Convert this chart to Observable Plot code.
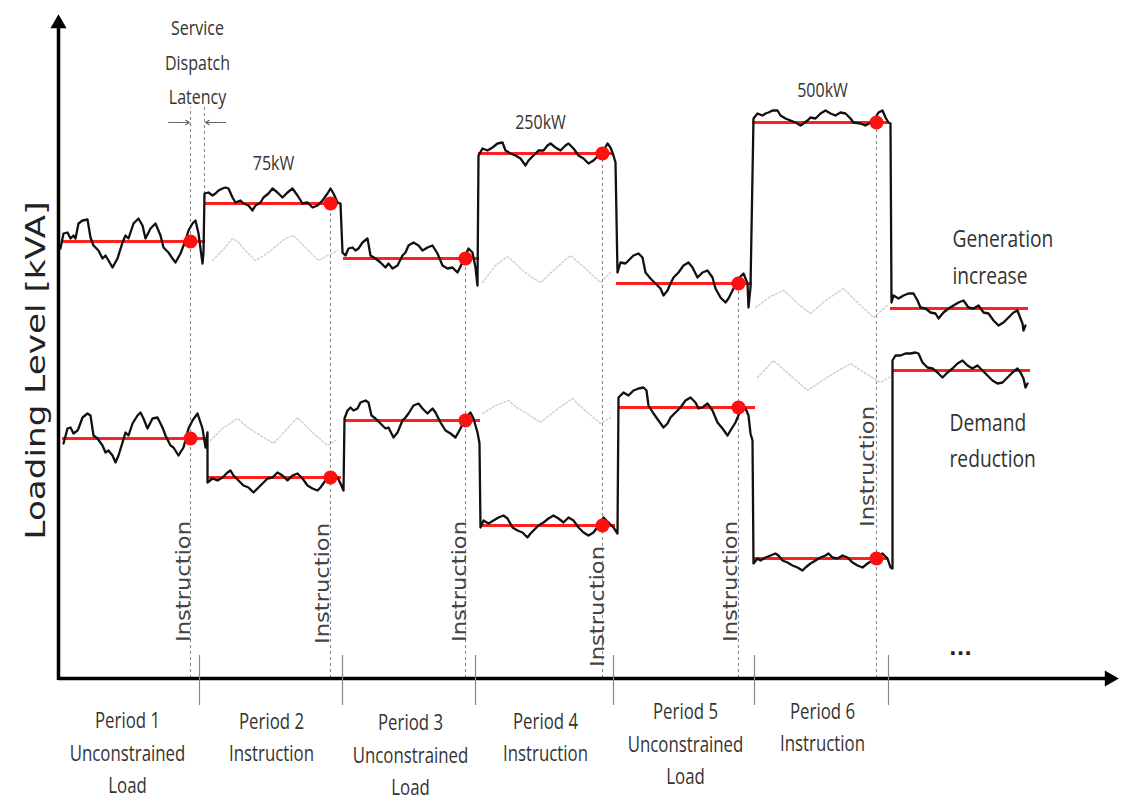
<!DOCTYPE html>
<html><head><meta charset="utf-8">
<script src="https://cdn.jsdelivr.net/npm/d3@7"></script>
<script src="https://cdn.jsdelivr.net/npm/@observablehq/plot@0.6"></script>
<style>
body{margin:0;background:#fff;}
</style></head><body><div id="chart"></div>
<script>
// time (s) vs loading level (kVA) read from the schematic
const generationIncrease = [
[2,430],[5,445],[9,446],[12,440],[15,443],[17,440],[20,455],[24,458],[29,459],[32,441],[35,433],[40,428],[44,420],[47,423],[50,418],[54,411],[59,420],[64,436],[67,443],[70,440],[75,455],[80,460],[84,453],[87,440],[92,450],[97,455],[102,443],[105,431],[110,426],[114,420],[117,416],[122,425],[127,438],[130,448],[134,455],[137,458],[140,445],[144,415],[145,426],[146,485],
[150,486],[154,483],[157,485],[160,488],[164,490],[167,491],[170,490],[174,481],[177,476],[182,478],[185,475],[190,473],[194,468],[197,473],[202,476],[205,481],[210,485],[214,490],[219,486],[224,481],[229,486],[234,490],[239,483],[244,475],[249,476],[254,471],[259,473],[264,478],[269,485],[272,490],[275,485],[279,476],[282,475],[284,426],
[287,423],[290,430],[294,431],[297,428],[300,430],[304,436],[309,440],[312,423],[317,420],[322,416],[327,411],[330,415],[334,410],[339,413],[344,423],[347,426],[350,433],[355,436],[360,433],[364,428],[369,431],[374,433],[379,425],[384,413],[389,410],[394,411],[399,406],[404,416],[410,430],[414,426],[417,411],[419,393],[420,523],
[424,530],[429,528],[434,531],[439,535],[444,536],[447,528],[452,525],[457,523],[462,520],[467,513],[470,518],[475,523],[480,528],[485,528],[489,533],[492,535],[497,531],[502,528],[507,533],[510,535],[515,530],[520,523],[525,520],[530,515],[535,518],[540,523],[545,528],[549,535],[552,531],[555,523],[557,516],
[559,406],[562,416],[567,415],[570,418],[575,423],[580,425],[584,421],[587,406],[592,400],[597,395],[602,390],[605,383],[609,388],[612,395],[615,401],[620,406],[625,413],[630,416],[634,411],[639,401],[644,406],[649,408],[654,401],[657,390],[662,381],[667,376],[670,380],[675,390],[680,400],[685,405],[689,395],[690,371],[692,391],[695,560],
[699,565],[704,563],[707,565],[710,566],[714,568],[719,568],[722,563],[727,560],[732,558],[737,556],[742,553],[745,555],[749,558],[752,561],[757,560],[762,565],[767,568],[772,565],[777,563],[782,566],[787,565],[792,560],[795,556],[802,555],[807,553],[812,556],[817,561],[820,566],[824,568],[827,561],[830,556],[832,555],[833,376],
[835,383],[840,380],[845,383],[850,385],[855,385],[859,378],[862,371],[867,370],[872,366],[877,365],[880,360],[885,366],[890,370],[895,373],[900,376],[905,378],[910,371],[915,370],[920,373],[925,366],[930,365],[935,358],[940,353],[945,356],[950,361],[955,366],[959,368],[962,360],[964,355],[965,348],[967,353]
];
const demandReduction = [
[5,235],[9,250],[12,251],[15,245],[19,248],[20,250],[24,261],[29,265],[32,263],[35,243],[39,240],[44,233],[47,226],[50,228],[54,223],[57,216],[60,223],[64,236],[67,246],[70,243],[74,255],[79,263],[82,266],[85,260],[89,250],[94,260],[99,261],[104,251],[107,243],[112,233],[115,231],[120,223],[125,231],[130,250],[134,258],[139,265],[144,250],[147,231],[149,246],[149,196],
[154,200],[159,198],[164,201],[169,206],[172,208],[175,203],[180,198],[185,193],[190,191],[195,186],[199,190],[204,195],[209,200],[214,201],[219,206],[224,203],[229,198],[234,203],[239,205],[244,200],[249,193],[254,190],[259,188],[262,191],[267,198],[270,203],[275,205],[279,201],[282,195],[285,188],[286,260],
[289,268],[292,271],[295,268],[299,270],[302,276],[307,278],[310,276],[313,263],[317,260],[322,255],[327,250],[330,251],[335,241],[339,246],[344,258],[347,261],[350,265],[355,273],[360,275],[364,270],[369,265],[374,270],[377,266],[382,256],[387,248],[392,245],[397,241],[402,250],[407,261],[412,266],[415,260],[419,246],[421,235],[422,151],
[425,158],[430,155],[435,158],[440,161],[445,163],[449,160],[454,151],[459,148],[464,146],[469,141],[472,145],[475,148],[480,153],[485,156],[490,160],[495,163],[500,160],[505,156],[510,161],[515,158],[520,151],[525,146],[530,143],[535,146],[540,153],[545,161],[550,156],[555,151],[559,145],[560,281],
[565,286],[570,283],[575,288],[580,290],[585,291],[588,288],[590,273],[595,265],[600,258],[605,251],[609,255],[612,261],[617,266],[622,271],[627,278],[632,281],[637,276],[640,270],[644,271],[649,275],[654,268],[659,256],[664,250],[669,243],[672,248],[677,256],[682,268],[687,270],[690,263],[692,245],[694,238],[695,115],
[699,120],[702,118],[707,121],[712,123],[717,125],[720,123],[724,118],[729,116],[734,113],[739,111],[744,108],[747,111],[752,115],[757,118],[762,121],[767,123],[770,125],[774,121],[779,120],[784,123],[789,121],[794,116],[799,113],[804,111],[809,115],[814,118],[819,121],[824,125],[829,120],[832,111],[834,110],[834,318],
[837,323],[842,323],[847,325],[852,325],[857,326],[860,325],[864,316],[869,311],[874,310],[879,306],[884,301],[889,306],[894,310],[899,315],[904,318],[909,313],[914,310],[919,313],[924,308],[929,303],[934,298],[939,295],[944,296],[949,301],[954,306],[959,310],[962,306],[965,300],[967,291],[969,295]
];
// unconstrained baseline shown faintly during instruction periods
const baselineUpper = [
[[154,418],[164,428],[174,440],[179,437],[187,428],[197,418],[207,424],[217,432],[227,440],[235,443],[242,436],[252,426],[260,418],[267,422],[279,428]],
[[424,396],[437,413],[449,422],[456,416],[462,410],[472,402],[482,396],[497,410],[512,423],[520,416],[527,410],[542,396],[552,406]],
[[697,371],[712,382],[725,388],[732,382],[739,375],[752,365],[767,378],[785,390],[792,383],[800,375],[815,361],[829,373]]
];
const baselineLower = [
[[152,238],[164,250],[179,260],[188,252],[197,246],[215,235],[227,248],[239,261],[246,254],[254,246],[269,233],[277,238]],
[[424,265],[437,273],[450,278],[458,271],[467,266],[482,256],[497,268],[514,280],[521,273],[529,266],[542,255],[552,261]],
[[699,301],[715,318],[724,310],[732,303],[749,288],[770,302],[792,315],[807,305],[822,296],[834,303]]
];
// delivered levels (red) per period: [start, end, level]
const levelsUpper = [[4,147,437],[147,280,475],[285,421,420],[420,554,525],[558,694,395],[694,831,556],[832,970,370]];
const levelsLower = [[4,149,240],[149,283,201],[287,422,258],[422,557,153],[560,697,271],[695,830,120],[834,972,308]];
// instruction instants
const instructionT = [132, 272, 407, 544, 680, 818];
const instructionTop = [571, 475, 420, 525, 395, 556];
const dotUpper = [437, 475, 420, 525, 395, 556];
const dotLower = [240, 201, 258, 153, 271, 120];
const latencyT = [146]; const latencyTop = [478];
const periodBounds = [141, 284, 417, 555, 696, 830];
const periodLabels = ["Period 1\nUnconstrained\nLoad","Period 2\nInstruction","Period 3\nUnconstrained\nLoad","Period 4\nInstruction","Period 5\nUnconstrained\nLoad","Period 6\nInstruction"];
const periodLabelT = [69, 213, 352, 487, 627, 764];
const periodLabelLoad = [-72, -56, -74, -56, -63, -46];
const instrLabelT = [125, 264, 401, 539, 672, 809];
const instrLabelLoad = [97, 95, 97, 72, 97, 212];
const powerLabels = ["75kW", "250kW", "500kW"];
const powerLabelT = [215, 482, 764];
const powerLabelLoad = [515, 556, 588];

const narrow = "Open Sans";
const pts = arr => arr.map(([t, load]) => ({t, load}));
const segs = (list) => list.flatMap((arr, i) => arr.map(([t, load]) => ({t, load, seg: i})));
const lv = arr => arr.map(([t1, t2, load]) => ({t1, t2, load}));
const instr = instructionT.map((t, i) => ({t, top: instructionTop[i], up: dotUpper[i], lo: dotLower[i]}));

const chart = Plot.plot({
  width: 1123, height: 804,
  marginLeft: 0, marginRight: 0, marginTop: 0, marginBottom: 0,
  x: {domain: [-58, 1065], axis: null},
  y: {domain: [-126, 678], axis: null},
  style: {background: "#fff"},
  marks: [
    Plot.line(segs(baselineUpper), {x: "t", y: "load", z: "seg", stroke: "#cccccc", strokeWidth: 1.3, strokeDasharray: "2,2"}),
    Plot.line(segs(baselineLower), {x: "t", y: "load", z: "seg", stroke: "#cccccc", strokeWidth: 1.3, strokeDasharray: "2,2"}),
    Plot.ruleX(instr, {x: "t", y1: 0, y2: "top", stroke: "#8a8a8a", strokeWidth: 1.1, strokeDasharray: "3,3"}),
    Plot.ruleX(latencyT.map((t, i) => ({t, top: latencyTop[i]})), {x: "t", y1: "top", y2: 571, stroke: "#8a8a8a", strokeWidth: 1.1, strokeDasharray: "3,3"}),
    Plot.arrow([{x1: 110, x2: 131, y: 556}, {x1: 167, x2: 147, y: 556}], {x1: "x1", x2: "x2", y1: "y", y2: "y", stroke: "#666", strokeWidth: 1.1, headLength: 6}),
    Plot.ruleY(lv(levelsUpper), {x1: "t1", x2: "t2", y: "load", stroke: "#ff2020", strokeWidth: 3}),
    Plot.ruleY(lv(levelsLower), {x1: "t1", x2: "t2", y: "load", stroke: "#ff2020", strokeWidth: 3}),
    Plot.line(pts(generationIncrease), {x: "t", y: "load", stroke: "#111", strokeWidth: 2.3, strokeLinejoin: "round"}),
    Plot.line(pts(demandReduction), {x: "t", y: "load", stroke: "#111", strokeWidth: 2.3, strokeLinejoin: "round"}),
    Plot.dot(instr, {x: "t", y: "up", r: 7, fill: "#ff1010"}),
    Plot.dot(instr, {x: "t", y: "lo", r: 7, fill: "#ff1010"}),
    // axes
    Plot.ruleX([0], {y1: -2, y2: 652, stroke: "#000", strokeWidth: 3.5}),
    Plot.ruleY([0], {x1: 0, x2: 1048, stroke: "#000", strokeWidth: 3.5}),
    Plot.dot([{t: 0, load: 655}], {x: "t", y: "load", symbol: "triangle", r: 6, fill: "#000"}),
    Plot.dot([{t: 1051, load: 0}], {x: "t", y: "load", symbol: "triangle", r: 6, fill: "#000", rotate: 90}),
    Plot.ruleX(periodBounds, {y1: -27, y2: 23, stroke: "#888", strokeWidth: 1.2}),
    // text
    Plot.text(periodLabels, {x: (d, i) => periodLabelT[i], y: (d, i) => periodLabelLoad[i], text: d => d, fontFamily: narrow, fontSize: 21, lineHeight: 1.55, fill: "#333"}),
    Plot.text(instrLabelT, {x: d => d, y: (d, i) => instrLabelLoad[i], text: () => "Instruction", rotate: -90, fontFamily: "DejaVu Sans", fontSize: 20, fill: "#444"}),
    Plot.text(powerLabels, {x: (d, i) => powerLabelT[i], y: (d, i) => powerLabelLoad[i], text: d => d, fontFamily: narrow, fontSize: 20, fill: "#333"}),
    Plot.text(["Service\nDispatch\nLatency"], {x: 139, y: 620, text: d => d, fontFamily: narrow, fontSize: 20, lineHeight: 1.72, fill: "#333"}),
    Plot.text(["Generation\nincrease"], {x: 894, y: 425, text: d => d, textAnchor: "start", fontFamily: narrow, fontSize: 24, lineHeight: 1.55, fill: "#333"}),
    Plot.text(["Demand\nreduction"], {x: 891, y: 241, text: d => d, textAnchor: "start", fontFamily: narrow, fontSize: 24, lineHeight: 1.5, fill: "#333"}),
    Plot.text(["..."], {x: 902, y: 30, text: d => d, fontFamily: "DejaVu Sans", fontSize: 20, fontWeight: "bold", fill: "#222"}),
    Plot.text(["Loading Level [kVA]"], {x: -22, y: 308, text: d => d, rotate: -90, fontFamily: "DejaVu Sans", fontSize: 26, fill: "#222"})
  ]
});
document.getElementById("chart").appendChild(chart);

// the reference uses a narrow, tall typeface: condense the horizontal labels
function squeeze(el, f) {
  const len = el.getComputedTextLength();
  el.setAttribute("textLength", (len * f).toFixed(1));
  el.setAttribute("lengthAdjust", "spacingAndGlyphs");
}
d3.select(chart).selectAll('g[font-family="Open Sans"] text').each(function() {
  const spans = this.querySelectorAll("tspan");
  if (spans.length) spans.forEach(s => squeeze(s, 0.8)); else squeeze(this, 0.8);
});
// the rotated labels are elongated along their baseline
d3.select(chart).selectAll("text").each(function() {
  if (this.textContent === "Instruction" && this.closest('g[font-family="DejaVu Sans"]')) {
    this.setAttribute("textLength", 121); this.setAttribute("lengthAdjust", "spacingAndGlyphs");
  }
  if (this.textContent === "Loading Level [kVA]") {
    this.setAttribute("textLength", 338); this.setAttribute("lengthAdjust", "spacingAndGlyphs");
  }
});
</script></body></html>
